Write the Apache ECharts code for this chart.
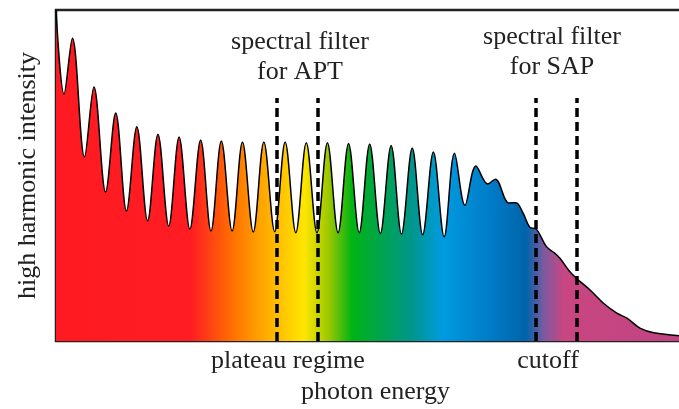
<!DOCTYPE html>
<html>
<head>
    <meta charset="utf-8">
    <script type="text/javascript" src="https://cdn.jsdelivr.net/npm/echarts@6/dist/echarts.min.js"></script>
</head>
<body style="margin: 0">
    <div id="container" style="height: 409px; width: 679px;"></div>
    <script type="text/javascript">
    // photon energy (arbitrary units, 0..100) and intensity (0..100)
    var energy = [0, 1.28, 2.62, 4.54, 6.05, 7.91, 9.52, 11.24, 12.89, 14.61, 16.26, 17.98,
        19.63, 21.35, 23.07, 24.72, 26.37, 28.09, 29.74, 31.46, 33.15, 34.88, 36.55, 38.25,
        39.92, 41.62, 43.29, 44.99, 46.66, 48.36, 50.03, 51.73, 53.45, 55.10, 56.82, 58.48,
        60.19, 61.91, 63.56, 65.22, 66.98, 68.86, 70.06, 72.23, 73.35, 74.48, 75.55, 76.61,
        78.22, 79.57, 80.37, 81.97, 83.03, 85.18, 87.32, 89.45, 91.06, 93.21, 95.35, 100];
    var intensity = [100, 74.6, 91.5, 55.6, 76.7, 45.0, 68.9, 39.3, 64.7, 36.3, 62.5, 34.7,
        61.6, 33.8, 60.7, 33.2, 60.4, 33.2, 60.1, 32.9, 60.1, 33.0, 60.1, 32.7,
        59.9, 32.7, 59.9, 32.7, 59.7, 32.7, 59.5, 32.5, 59.1, 32.3, 58.3, 32.1,
        57.1, 31.5, 56.7, 41.0, 52.9, 47.4, 48.9, 41.7, 41.8, 38.7, 34.4, 33.8,
        28.5, 26.5, 25.0, 20.9, 18.9, 15.4, 11.4, 8.4, 6.9, 3.8, 2.5, 1.5];

    // spectral filter edges (APT pair, SAP pair)
    var filterEdges = [35.15, 41.73, 76.57, 82.99];
    var filterTop = 73.4;

    var serif = '"Liberation Serif", "DejaVu Serif", serif';
    var textColor = '#222';

    var points = energy.map(function (e, i) { return [e, intensity[i]]; });
    var filterLines = filterEdges.map(function (e) {
        return [{ coord: [e, 0] }, { coord: [e, filterTop] }];
    });

    var rainbow = new echarts.graphic.LinearGradient(0, 0, 1, 0, [
        { offset: 0, color: '#ff1a22' },
        { offset: 0.215, color: '#ff1c22' },
        { offset: 0.284, color: '#ff7300' },
        { offset: 0.327, color: '#ffa500' },
        { offset: 0.396, color: '#ffe600' },
        { offset: 0.435, color: '#9cc800' },
        { offset: 0.472, color: '#00b414' },
        { offset: 0.504, color: '#00a83c' },
        { offset: 0.568, color: '#00968c' },
        { offset: 0.616, color: '#009be1' },
        { offset: 0.701, color: '#0078c3' },
        { offset: 0.750, color: '#0064aa' },
        { offset: 0.777, color: '#785aa0' },
        { offset: 0.809, color: '#c84682' },
        { offset: 1, color: '#c04480' }
    ]);

    var myChart = echarts.init(document.getElementById('container'));
    var option = {
        animation: false,
        grid: {
            show: true,
            left: 56,
            top: 10,
            right: -4,
            bottom: 68,
            containLabel: false,
            outerBoundsMode: 'none',
            borderColor: '#222',
            borderWidth: 2.5
        },
        xAxis: {
            type: 'value',
            min: 0,
            max: 100,
            axisLine: { show: false },
            axisTick: { show: false },
            axisLabel: { show: false },
            splitLine: { show: false },
            name: 'photon energy',
            nameLocation: 'middle',
            nameGap: 38,
            nameTextStyle: {
                fontFamily: serif,
                fontSize: 26,
                color: textColor,
                padding: [0, 0, 0, 12]
            }
        },
        yAxis: {
            type: 'value',
            min: 0,
            max: 100,
            axisLine: { show: false },
            axisTick: { show: false },
            axisLabel: { show: false },
            splitLine: { show: false },
            name: 'high harmonic intensity',
            nameLocation: 'middle',
            nameRotate: 90,
            nameGap: 15,
            nameTextStyle: {
                fontFamily: serif,
                fontSize: 26,
                color: textColor
            }
        },
        series: [{
            type: 'line',
            data: points,
            smooth: 0.35,
            symbol: 'none',
            lineStyle: { color: '#000', width: 1.5 },
            areaStyle: { color: rainbow, opacity: 1 },
            markLine: {
                silent: true,
                symbol: 'none',
                label: { show: false },
                lineStyle: { color: '#000', width: 3.5, type: [9, 5] },
                data: filterLines
            }
        }],
        graphic: [
            { type: 'text', x: 300, y: 57, style: { text: 'spectral filter\nfor APT', font: '26px ' + serif, fill: textColor, align: 'center', verticalAlign: 'middle', lineHeight: 30 } },
            { type: 'text', x: 552, y: 52, style: { text: 'spectral filter\nfor SAP', font: '26px ' + serif, fill: textColor, align: 'center', verticalAlign: 'middle', lineHeight: 30 } },
            { type: 'text', x: 288, y: 361, style: { text: 'plateau regime', font: '26px ' + serif, fill: textColor, align: 'center', verticalAlign: 'middle' } },
            { type: 'text', x: 548, y: 361, style: { text: 'cutoff', font: '26px ' + serif, fill: textColor, align: 'center', verticalAlign: 'middle' } }
        ]
    };
    myChart.setOption(option);
    </script>
</body>
</html>
